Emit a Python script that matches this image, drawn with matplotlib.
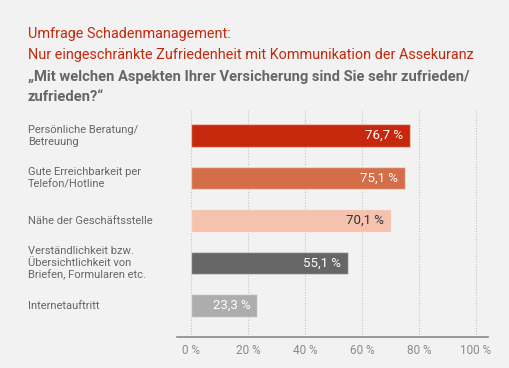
import matplotlib
matplotlib.use("Agg")
import matplotlib.pyplot as plt
from matplotlib.transforms import blended_transform_factory

plt.rcParams['font.family'] = ['Roboto', 'DejaVu Sans']

categories = ["Persönliche Beratung/\nBetreuung",
              "Gute Erreichbarkeit per\nTelefon/Hotline",
              "Nähe der Geschäftsstelle",
              "Verständlichkeit bzw.\nÜbersichtlichkeit von\nBriefen, Formularen etc.",
              "Internetauftritt"]
values = [76.7, 75.1, 70.1, 55.1, 23.3]
value_labels = ["76,7 %", "75,1 %", "70,1 %", "55,1 %", "23,3 %"]
bar_colors = ["#c5280c", "#d46e49", "#f4c2ae", "#666666", "#adadad"]
label_colors = ["white", "white", "#333333", "white", "white"]
xticks = [0, 20, 40, 60, 80, 100]
xtick_labels = ["0 %", "20 %", "40 %", "60 %", "80 %", "100 %"]

title1 = "Umfrage Schadenmanagement:"
title2 = "Nur eingeschränkte Zufriedenheit mit Kommunikation der Assekuranz"
title3 = "„Mit welchen Aspekten Ihrer Versicherung sind Sie sehr zufrieden/"
title4 = "zufrieden?“"

bg = "#f2f2f2"
W, H = 510, 368
fig = plt.figure(figsize=(W/100, H/100), dpi=100, facecolor=bg)
ax = fig.add_axes([177/W, 1-337/H, (488-177)/W, (337-110)/H])
ax.set_facecolor(bg)

ypos = list(range(len(values)))
ax.barh(ypos, values, height=0.53, color=bar_colors,
        edgecolor=(1, 1, 1, 0.45), linewidth=1, zorder=3)
ax.set_ylim(4.74, -0.6)
ax.set_xlim(-4.9, 104.2)

for x in xticks:
    ax.axvline(x, color="#c4c4c4", linestyle=(0, (1, 1.5)), linewidth=0.8, zorder=1)

for sp in ["top", "right", "left"]:
    ax.spines[sp].set_visible(False)
ax.spines["bottom"].set_color("#8a8a8a")
ax.spines["bottom"].set_linewidth(1.2)
ax.set_yticks([])
ax.set_xticks(xticks)
ax.set_xticklabels(xtick_labels)
ax.tick_params(axis="x", length=0, pad=5, labelsize=8.5, labelcolor="#8a8a8a")

for y, v, lab, c in zip(ypos, values, value_labels, label_colors):
    ax.annotate(lab, xy=(v, y), xytext=(-5, 0), textcoords="offset points",
                ha="right", va="center", color=c, fontsize=9.5, zorder=4)

tr = blended_transform_factory(fig.transFigure, ax.transData)
for y, cat in zip(ypos, categories):
    ax.text(28/W, y, cat, transform=tr, ha="left", va="center",
            color="#666666", fontsize=8.0, linespacing=1.25)

fig.text(28/W, 1-38/H, title1, color="#c5280c", fontsize=10.4, va="baseline")
fig.text(28/W, 1-59.5/H, title2, color="#c5280c", fontsize=10.4, va="baseline")
fig.text(28/W, 1-80.5/H, title3, color="#666666", fontsize=10.6, weight="bold", va="baseline")
fig.text(28/W, 1-101/H, title4, color="#666666", fontsize=10.6, weight="bold", va="baseline")

fig.savefig("out.png", dpi=100, facecolor=bg)
